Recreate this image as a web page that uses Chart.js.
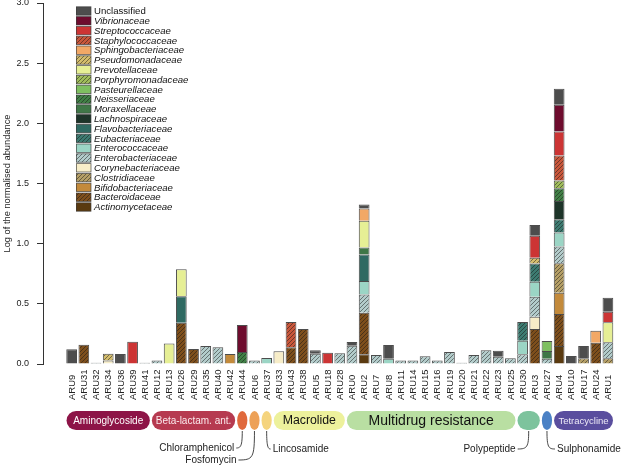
<!DOCTYPE html>
<html>
<head>
<meta charset="utf-8">
<script src="https://cdn.jsdelivr.net/npm/chart.js@4"></script>
<style>
  html, body { margin: 0; padding: 0; background: #fff; }
  #wrap { width: 621px; height: 466px; position: relative; }
</style>
</head>
<body>
<div id="wrap"><canvas id="chart"></canvas></div>
<script>
// samples in plotting order
const samples = [
  'ARU9','ARU31','ARU32','ARU34','ARU36','ARU39','ARU41','ARU12','ARU13','ARU26','ARU29','ARU35','ARU40','ARU42','ARU44',
  'ARU6','ARU37','ARU33','ARU43','ARU38','ARU5','ARU18','ARU28','ARU0','ARU2','ARU7','ARU8','ARU11','ARU14','ARU15',
  'ARU16','ARU19','ARU20','ARU21','ARU22','ARU23','ARU25','ARU30','ARU3','ARU27','ARU4','ARU10','ARU17','ARU24','ARU1'];

// log normalised abundance per family (stacked, bottom first)
const actinomycetaceae = [
  0,0,0,0,0,0,0,0,0,0,0,0,0,0,0,
  0,0,0,0,0,0,0,0,0,0.08,0,0,0,0,0,
  0,0,0,0,0,0,0,0,0,0,0.15,0,0,0,0];
const bacteroidaceae = [
  0,0.16,0,0,0,0,0,0,0,0.343,0.125,0,0,0,0,
  0,0,0,0.14,0.29,0,0,0,0,0.346,0,0,0,0,0,
  0,0,0,0,0,0,0,0,0.291,0,0.266,0,0,0.177,0];
const bifidobacteriaceae = [
  0,0,0,0,0,0,0,0,0,0,0,0,0,0.083,0,
  0,0,0,0,0,0,0,0,0,0,0,0,0,0,0,
  0,0,0,0,0,0,0,0,0,0,0.177,0,0,0,0];
const clostridiaceae = [
  0,0,0,0,0,0,0,0,0,0,0,0,0,0,0,
  0,0,0,0,0,0,0,0,0,0,0,0,0,0,0,
  0,0,0,0,0,0,0,0,0,0,0.244,0,0.047,0,0.047];
const corynebacteriaceae = [
  0,0,0,0.03,0,0,0,0,0,0,0,0,0,0,0,
  0,0,0.105,0,0,0,0,0,0,0,0,0,0,0,0,
  0,0,0,0,0,0,0,0,0.102,0,0,0,0,0,0];
const enterobacteriaceae = [
  0,0,0.01,0,0,0,0.01,0.03,0,0,0,0.15,0.14,0,0,
  0.03,0,0,0,0,0.086,0,0.09,0.152,0.152,0.075,0,0.03,0.03,0.064,
  0.03,0.1,0.01,0.075,0.114,0.061,0.047,0.08,0.166,0.044,0.139,0,0,0,0.133];
const enterococcaceae = [
  0,0,0,0,0,0,0,0,0,0,0,0,0,0,0,
  0,0.05,0,0,0,0,0,0,0,0.111,0,0.044,0,0,0,
  0,0,0,0,0,0,0,0.114,0.125,0,0.116,0,0,0,0];
const eubacteriaceae = [
  0,0,0,0,0,0,0,0,0,0,0,0,0,0,0,
  0,0,0,0,0,0,0,0,0,0,0,0,0,0,0,
  0,0,0,0,0,0,0,0.155,0.152,0,0.111,0,0,0,0];
const flavobacteriaceae = [
  0,0,0,0,0,0,0,0,0,0.22,0,0,0,0,0,
  0,0,0,0,0,0,0,0,0,0.222,0,0,0,0,0,
  0,0,0,0,0,0,0,0,0,0,0,0,0,0,0];
const lachnospiraceae = [
  0,0,0,0,0,0,0,0,0,0,0,0,0,0,0,
  0,0,0,0,0,0,0,0,0,0,0,0,0,0,0,
  0,0,0,0,0,0,0,0,0,0,0.152,0,0,0,0];
const moraxellaceae = [
  0,0,0,0,0,0,0,0,0,0,0,0,0,0,0,
  0,0,0,0,0,0,0,0,0,0.058,0,0,0,0,0,
  0,0,0,0,0,0,0,0,0,0.064,0,0,0,0,0];
const neisseriaceae = [
  0,0,0,0,0,0,0,0,0,0,0,0,0,0,0.1,
  0,0,0,0,0,0,0,0,0,0,0,0,0,0,0,
  0,0,0,0,0,0,0,0,0,0,0.105,0,0,0,0];
const pasteurellaceae = [
  0,0,0,0,0,0,0,0,0,0,0,0,0,0,0,
  0,0,0,0,0,0,0,0,0,0,0,0,0,0,0,
  0,0,0,0,0,0,0,0,0,0.083,0,0,0,0,0];
const porphyromonadaceae = [
  0,0,0,0,0,0,0,0,0,0,0,0,0,0,0,
  0,0,0,0,0,0,0,0,0,0,0,0,0,0,0,
  0,0,0,0,0,0,0,0,0,0,0.064,0,0,0,0];
const prevotellaceae = [
  0,0,0,0,0,0,0,0,0.17,0.225,0,0,0,0,0,
  0,0,0,0,0,0,0,0,0,0.222,0,0,0,0,0,
  0,0,0,0,0,0,0,0,0,0,0,0,0,0,0.166];
const pseudomonadaceae = [
  0,0,0,0.055,0,0,0,0,0,0,0,0,0,0,0,
  0,0,0,0,0,0,0,0,0,0,0,0,0,0,0,
  0,0,0,0,0,0,0,0,0.047,0,0,0,0,0,0];
const sphingobacteriaceae = [
  0,0,0,0,0,0,0,0,0,0,0,0,0,0,0,
  0,0,0,0,0,0,0,0,0,0.102,0,0,0,0,0,
  0,0,0,0,0,0,0,0,0,0,0,0,0,0.1,0];
const staphylococcaceae = [
  0,0,0,0,0,0,0,0,0,0,0,0,0,0,0,
  0,0,0,0.21,0,0,0,0,0,0,0,0,0,0,0,
  0,0,0,0,0,0,0,0,0,0,0.208,0,0,0,0];
const streptococcaceae = [
  0,0,0,0,0,0.185,0,0,0,0,0,0,0,0,0,
  0,0,0,0,0,0,0.094,0,0,0,0,0,0,0,0,
  0,0,0,0,0,0,0,0,0.183,0,0.2,0,0,0,0.089];
const vibrionaceae = [
  0,0,0,0,0,0,0,0,0,0,0,0,0,0,0.225,
  0,0,0,0,0,0,0,0,0,0,0,0,0,0,0,
  0,0,0,0,0,0,0,0,0,0,0.222,0,0,0,0];
const unclassified = [
  0.122,0,0,0,0.083,0,0,0,0,0,0,0,0,0,0,
  0,0,0,0,0,0.028,0,0,0.03,0.033,0,0.114,0,0,0,
  0,0,0,0,0,0.05,0,0,0.089,0,0.133,0.066,0.103,0,0.116];

const families = ['Actinomycetaceae','Bacteroidaceae','Bifidobacteriaceae','Clostridiaceae','Corynebacteriaceae',
  'Enterobacteriaceae','Enterococcaceae','Eubacteriaceae','Flavobacteriaceae','Lachnospiraceae','Moraxellaceae',
  'Neisseriaceae','Pasteurellaceae','Porphyromonadaceae','Prevotellaceae','Pseudomonadaceae','Sphingobacteriaceae',
  'Staphylococcaceae','Streptococcaceae','Vibrionaceae','Unclassified'];
const series = [actinomycetaceae, bacteroidaceae, bifidobacteriaceae, clostridiaceae, corynebacteriaceae,
  enterobacteriaceae, enterococcaceae, eubacteriaceae, flavobacteriaceae, lachnospiraceae, moraxellaceae,
  neisseriaceae, pasteurellaceae, porphyromonadaceae, prevotellaceae, pseudomonadaceae, sphingobacteriaceae,
  staphylococcaceae, streptococcaceae, vibrionaceae, unclassified];

// antibiotic classes under the axis (first / last sample index)
const drugClasses = ['Aminoglycoside','Beta-lactam. ant.','Chloramphenicol','Fosfomycin','Lincosamide',
  'Macrolide','Multidrug resistance','Polypeptide','Sulphonamide','Tetracycline'];
const classFirst = [0, 7, 14, 15, 16, 17, 23, 37, 39, 40];
const classLast  = [6, 13, 14, 15, 16, 22, 36, 38, 39, 44];

// styles
const FONT = "'Liberation Sans', Arial, Helvetica, sans-serif";
const fills = ['#5a3a10','#7e4f1c','#c38a3b','#b59f66','#f7edc8','#b3cccb','#9bd5c5','#3d7b71','#2f6a62','#1d3429',
  '#3f7747','#418046','#7ebf60','#a0bd5b','#e6ef95','#d4bd6c','#f2a866','#c9573b','#cc3434','#6e0c2e','#4d4d4d'];
const hatched = [false,true,false,true,false,true,false,true,false,false,false,true,false,true,false,true,false,true,false,false,false];
const classColors = ['#8d1447','#b63a50','#e0693c','#eda157','#f5d47e','#edf19c','#b9dfa2','#7dc39d','#4b81c5','#5a4e9e'];
const classText = ['#ffffff','#fbe9ec',null,null,null,'#111111','#111111',null,null,'#ece8f6'];
const classSize = [10, 10, 10, 10, 10, 12.3, 14, 10, 10, 9.5];
// callouts for the narrow classes: side (-1 left, 1 right), horizontal reach, text drop below pill
const calloutSide = [0, 0, -1, -1, 1, 0, 0, -1, 1, 0];
const calloutReach = [0, 0, 6, 16, 4, 0, 0, 11, 8, 0];
const calloutDrop = [0, 0, 18, 30, 19, 0, 0, 19, 19, 0];

Chart.defaults.font.family = FONT;
Chart.defaults.color = '#222';

const ctx = document.getElementById('chart').getContext('2d');

function hatch(color) {
  const tile = document.createElement('canvas');
  tile.width = 4; tile.height = 4;
  const t = tile.getContext('2d');
  t.fillStyle = color;
  t.fillRect(0, 0, 4, 4);
  t.strokeStyle = 'rgba(20,20,20,0.55)';
  t.lineWidth = 0.9;
  t.beginPath();
  t.moveTo(0, 4); t.lineTo(4, 0);
  t.moveTo(-1, 1); t.lineTo(1, -1);
  t.moveTo(3, 5); t.lineTo(5, 3);
  t.stroke();
  return ctx.createPattern(tile, 'repeat');
}
const paints = fills.map((c, i) => hatched[i] ? hatch(c) : c);

function pill(c, x0, x1, y0, y1) {
  const ry = (y1 - y0) / 2, rx = Math.min(ry, (x1 - x0) / 2);
  c.beginPath();
  c.ellipse(x0 + rx, y0 + ry, rx, ry, 0, Math.PI / 2, Math.PI * 1.5);
  c.lineTo(x1 - rx, y0);
  c.ellipse(x1 - rx, y0 + ry, rx, ry, 0, -Math.PI / 2, Math.PI / 2);
  c.closePath();
}

const overlay = {
  id: 'overlay',
  afterDraw(chart) {
    const c = chart.ctx;
    const xs = chart.scales.x;
    const area = chart.chartArea;
    const step = xs.getPixelForValue(1) - xs.getPixelForValue(0);
    c.save();

    // sample labels, reading upwards
    c.fillStyle = '#222';
    c.font = '9.5px ' + FONT;
    c.textAlign = 'left';
    c.textBaseline = 'middle';
    samples.forEach((s, i) => {
      c.save();
      c.translate(xs.getPixelForValue(i) + 0.5, area.bottom + 36);
      c.rotate(-Math.PI / 2);
      c.fillText(s, 0, 0);
      c.restore();
    });

    // legend (top of stack first)
    for (let k = 0; k < families.length; k++) {
      const i = families.length - 1 - k;
      const x = area.left + 33;
      const yc = area.top + 8 + k * 9.8;
      c.fillStyle = paints[i];
      c.fillRect(x, yc - 4.2, 15, 8.4);
      c.strokeStyle = 'rgba(60,60,60,0.8)';
      c.lineWidth = 0.8;
      c.strokeRect(x + 0.5, yc - 4.2, 14.5, 8.4);
      c.fillStyle = '#111';
      c.font = (families[i] === 'Unclassified' ? '' : 'italic ') + '9.6px ' + FONT;
      c.fillText(families[i], x + 18, yc + 0.5);
    }

    // antibiotic class pills
    const py0 = area.bottom + 47, py1 = area.bottom + 66;
    drugClasses.forEach((name, k) => {
      const x0 = xs.getPixelForValue(classFirst[k]) - step / 2 + 1;
      const x1 = xs.getPixelForValue(classLast[k]) + step / 2 - 1;
      const cx = (x0 + x1) / 2;
      pill(c, x0, x1, py0, py1);
      c.fillStyle = classColors[k];
      c.fill();
      c.font = classSize[k] + 'px ' + FONT;
      if (classText[k]) {
        c.fillStyle = classText[k];
        c.textAlign = 'center';
        c.fillText(name, cx, (py0 + py1) / 2 + 0.5);
      } else {
        const side = calloutSide[k];
        const ty = py1 + calloutDrop[k];
        const ex = cx + side * calloutReach[k];
        c.strokeStyle = '#333';
        c.lineWidth = 0.9;
        c.beginPath();
        c.moveTo(cx, py1 + 1);
        c.bezierCurveTo(cx, ty - 2, cx + side * 1.5, ty, ex, ty);
        c.stroke();
        c.fillStyle = '#222';
        c.textAlign = side < 0 ? 'right' : 'left';
        c.fillText(name, ex + side * 2, ty + 0.5);
      }
    });
    c.restore();
  }
};

const datasets = families.map((name, i) => ({
  label: name,
  data: series[i].map((v, j) => ({ x: j, y: v > 0 ? v : null })),
  backgroundColor: paints[i],
  borderColor: 'rgba(45,45,45,0.85)',
  borderWidth: { top: 1, left: 1, right: 1, bottom: 0 },
  borderSkipped: false,
  barPercentage: 0.88,
  categoryPercentage: 1
}));

new Chart(ctx, {
  type: 'bar',
  data: { datasets },
  options: {
    responsive: true,
    maintainAspectRatio: false,
    animation: false,
    devicePixelRatio: 1,
    layout: { padding: { top: 3, right: 7, left: 0, bottom: 0 } },
    plugins: { legend: { display: false }, tooltip: { enabled: false } },
    scales: {
      x: {
        type: 'linear',
        stacked: true,
        offset: false,
        bounds: 'data',
        min: -2.35,
        max: 44.5,
        ticks: { display: false, stepSize: 100 },
        grid: { display: false },
        border: { display: false },
        afterFit: s => { s.height = 102; }
      },
      y: {
        stacked: true,
        min: 0,
        max: 3,
        ticks: { stepSize: 0.5, padding: 8, color: '#222', font: { size: 9 }, callback: v => v.toFixed(1) },
        grid: { drawOnChartArea: false, tickLength: 6, color: '#333' },
        border: { color: '#333' },
        title: {
          display: true,
          text: 'Log of the normalised abundance',
          color: '#222',
          font: { size: 9.3 },
          padding: { top: 2, bottom: 0 }
        },
        afterFit: s => { s.width = 43; s.paddingTop = 0; s.paddingBottom = 0; }
      }
    }
  },
  plugins: [overlay]
});
</script>
</body>
</html>
